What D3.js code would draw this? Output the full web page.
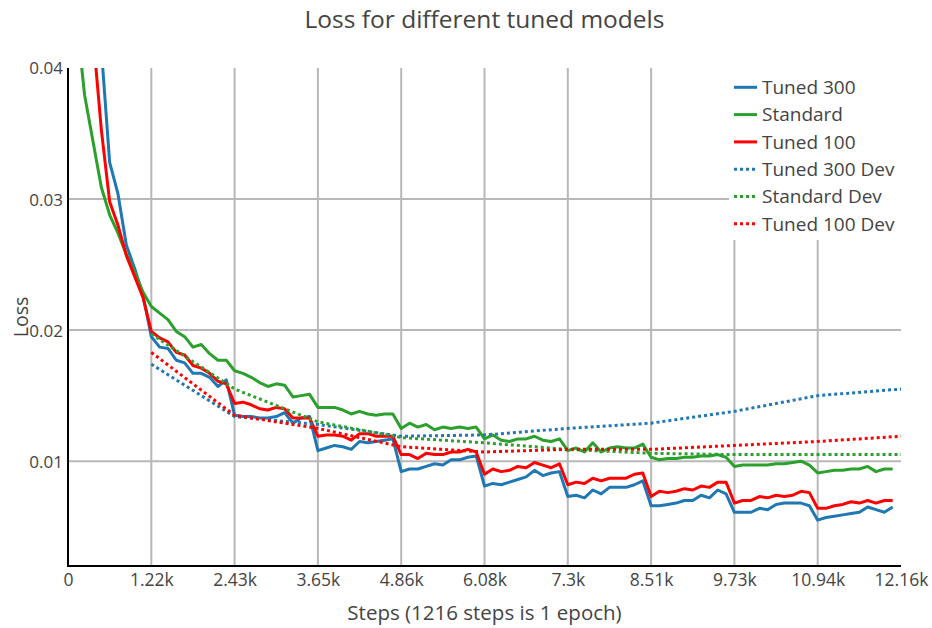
<!DOCTYPE html>
<html>
<head>
<meta charset="utf-8">
<script src="https://cdn.jsdelivr.net/npm/d3@7"></script>
<style>
  html, body { margin: 0; padding: 0; background: #fff; }
  svg { display: block; font-family: "Open Sans", sans-serif; }
</style>
</head>
<body>
<svg id="chart" width="932" height="628"></svg>
<script>
// Training loss logged every 121.6 steps (10 samples per epoch of 1216 steps)
const STEP = 121.6;
const tuned300 = [0.0900,0.0700,0.0550,0.0470,0.0415,0.0328,0.0304,0.0265,0.0247,0.0227,
  0.0195,0.0187,0.0186,0.0177,0.0175,0.0167,0.0167,0.0164,0.0157,0.0162,
  0.0135,0.0134,0.0134,0.0133,0.0133,0.0134,0.0137,0.0129,0.0133,0.0134,
  0.0108,0.0110,0.0112,0.0111,0.0109,0.0115,0.0114,0.0115,0.0116,0.0117,
  0.0092,0.0094,0.0094,0.0096,0.0098,0.0097,0.0101,0.0101,0.0103,0.0104,
  0.0081,0.0083,0.0082,0.0084,0.0086,0.0088,0.0093,0.0089,0.0091,0.0092,
  0.0073,0.0074,0.0072,0.0078,0.0075,0.0080,0.0080,0.0080,0.0082,0.0085,
  0.0066,0.0066,0.0067,0.0068,0.0070,0.0070,0.0074,0.0072,0.0078,0.0075,
  0.0061,0.0061,0.0061,0.0064,0.0063,0.0067,0.0068,0.0068,0.0068,0.0066,
  0.0055,0.0057,0.0058,0.0059,0.0060,0.0061,0.0065,0.0063,0.0061,0.0065];
const standard = [0.0700,0.0439,0.0379,0.0344,0.0309,0.0288,0.0274,0.0258,0.0244,0.0229,
  0.0218,0.0213,0.0208,0.0199,0.0195,0.0187,0.0189,0.0182,0.0177,0.0177,
  0.0169,0.0167,0.0164,0.0160,0.0157,0.0159,0.0158,0.0149,0.0150,0.0151,
  0.0141,0.0141,0.0141,0.0139,0.0136,0.0138,0.0136,0.0135,0.0136,0.0136,
  0.0125,0.0129,0.0126,0.0128,0.0124,0.0126,0.0125,0.0126,0.0125,0.0126,
  0.0117,0.0120,0.0116,0.0115,0.0117,0.0117,0.0119,0.0116,0.0115,0.0117,
  0.0108,0.0110,0.0107,0.0114,0.0107,0.0110,0.0111,0.0110,0.0110,0.0113,
  0.0103,0.0101,0.0102,0.0102,0.0103,0.0103,0.0104,0.0104,0.0105,0.0103,
  0.0096,0.0097,0.0097,0.0097,0.0097,0.0098,0.0098,0.0099,0.0100,0.0097,
  0.0091,0.0092,0.0093,0.0093,0.0094,0.0094,0.0096,0.0092,0.0094,0.0094];
const tuned100 = [0.0850,0.0600,0.0480,0.0426,0.0353,0.0298,0.0280,0.0257,0.0241,0.0225,
  0.0199,0.0194,0.0191,0.0183,0.0181,0.0173,0.0171,0.0167,0.0161,0.0159,
  0.0144,0.0145,0.0143,0.0140,0.0139,0.0141,0.0140,0.0133,0.0133,0.0133,
  0.0119,0.0120,0.0120,0.0119,0.0116,0.0121,0.0121,0.0119,0.0119,0.0119,
  0.0105,0.0105,0.0102,0.0106,0.0105,0.0105,0.0107,0.0107,0.0109,0.0107,
  0.0090,0.0094,0.0092,0.0093,0.0096,0.0095,0.0099,0.0097,0.0095,0.0098,
  0.0082,0.0084,0.0083,0.0087,0.0085,0.0087,0.0087,0.0087,0.0090,0.0091,
  0.0073,0.0077,0.0076,0.0077,0.0079,0.0078,0.0081,0.0080,0.0084,0.0084,
  0.0068,0.0070,0.0070,0.0073,0.0072,0.0074,0.0073,0.0074,0.0077,0.0076,
  0.0064,0.0064,0.0066,0.0067,0.0069,0.0068,0.0070,0.0068,0.0070,0.0070];

// Dev loss evaluated at the end of each epoch
const EPOCH = 1216;
const tuned300Dev = [0.0174,0.0134,0.0128,0.0119,0.0120,0.0125,0.0129,0.0138,0.0150,0.0155];
const standardDev = [0.0197,0.0155,0.0130,0.0118,0.0114,0.0109,0.0106,0.0105,0.0105,0.0105];
const tuned100Dev = [0.0183,0.0135,0.0125,0.0111,0.0107,0.0109,0.0109,0.0112,0.0115,0.0119];

const xTickValues = [0,1216,2432,3648,4864,6080,7296,8512,9728,10944,12160];
const xTickLabels = ["0","1.22k","2.43k","3.65k","4.86k","6.08k","7.3k","8.51k","9.73k","10.94k","12.16k"];
const yTickValues = [0.01,0.02,0.03,0.04];
const yTickLabels = ["0.01","0.02","0.03","0.04"];

const seriesNames = ["Tuned 300","Standard","Tuned 100","Tuned 300 Dev","Standard Dev","Tuned 100 Dev"];
const seriesColors = ["#1f77b4","#2ca02c","#ff0000","#1f77b4","#2ca02c","#ff0000"];

const trainSeries = [tuned300, standard, tuned100].map(vals => vals.map((v,i) => [i*STEP, v]));
const devSeries = [tuned300Dev, standardDev, tuned100Dev].map(vals => vals.map((v,i) => [(i+1)*EPOCH, v]));

const svg = d3.select("#chart");
const plotL = 68, plotR = 901, plotT = 68, plotB = 566;
const x = d3.scaleLinear().domain([0, 12160]).range([plotL, plotR]);
const y = d3.scaleLinear().domain([0.002, 0.04]).range([plotB, plotT]);
const textColor = "#444";
const gridColor = "#b8b8b8";

svg.append("defs").append("clipPath").attr("id","plotClip")
  .append("rect").attr("x", plotL).attr("y", plotT).attr("width", plotR-plotL).attr("height", plotB-plotT);

// gridlines
const grid = svg.append("g");
grid.selectAll("line.vx").data(xTickValues.filter(v => v > 0 && v < 12160)).join("line")
  .attr("x1", d => x(d)).attr("x2", d => x(d)).attr("y1", plotT).attr("y2", plotB)
  .attr("stroke", gridColor).attr("stroke-width", 2);
grid.selectAll("line.hy").data(yTickValues.filter(v => v < 0.04)).join("line")
  .attr("x1", plotL).attr("x2", plotR).attr("y1", d => y(d)).attr("y2", d => y(d))
  .attr("stroke", gridColor).attr("stroke-width", 2);

// data lines
const line = d3.line().x(d => x(d[0])).y(d => y(d[1]));
const plot = svg.append("g").attr("clip-path", "url(#plotClip)");
trainSeries.forEach((s, k) => {
  plot.append("path").datum(s).attr("d", line)
    .attr("fill","none").attr("stroke", seriesColors[k]).attr("stroke-width", 3)
    .attr("stroke-linejoin","round");
});
devSeries.forEach((s, k) => {
  plot.append("path").datum(s).attr("d", line)
    .attr("fill","none").attr("stroke", seriesColors[k+3]).attr("stroke-width", 3)
    .attr("stroke-dasharray","3,3");
});

// axis lines
svg.append("line").attr("x1", plotL).attr("x2", plotL).attr("y1", plotT).attr("y2", plotB+1)
  .attr("stroke","#000").attr("stroke-width", 2);
svg.append("line").attr("x1", plotL-1).attr("x2", plotR).attr("y1", plotB).attr("y2", plotB)
  .attr("stroke","#000").attr("stroke-width", 2);

// tick labels via d3 axis generators (domain and tick marks hidden)
const xAxis = d3.axisBottom(x).tickValues(xTickValues)
  .tickFormat((d,i) => xTickLabels[i]).tickSize(0).tickPadding(0);
const gx = svg.append("g").attr("transform", `translate(0,${plotB})`).call(xAxis);
gx.select(".domain").remove();
gx.selectAll("text").attr("y", 20).attr("dy", 0).attr("fill", textColor)
  .style("font-size","17.5px").style("font-family","'Open Sans', sans-serif");

const yAxis = d3.axisLeft(y).tickValues(yTickValues)
  .tickFormat((d,i) => yTickLabels[i]).tickSize(0).tickPadding(5);
const gy = svg.append("g").attr("transform", `translate(${plotL},0)`).call(yAxis);
gy.select(".domain").remove();
gy.selectAll("text").attr("dy","0.35em").attr("fill", textColor)
  .style("font-size","17px").style("font-family","'Open Sans', sans-serif");

// titles
svg.append("text").attr("x", (plotL+plotR)/2).attr("y", 28).attr("text-anchor","middle")
  .attr("fill", textColor).style("font-size","24.5px").text("Loss for different tuned models");
svg.append("text").attr("x", (plotL+plotR)/2).attr("y", 620).attr("text-anchor","middle")
  .attr("fill", textColor).style("font-size","20.5px").text("Steps (1216 steps is 1 epoch)");
svg.append("text").attr("transform", `translate(28,${(plotT+plotB)/2}) rotate(-90)`)
  .attr("text-anchor","middle").attr("fill", textColor).style("font-size","19.5px").text("Loss");

// legend
const legend = svg.append("g");
legend.append("rect").attr("x", 729).attr("y", 68).attr("width", 180).attr("height", 172).attr("fill", "#fff");
seriesNames.forEach((name, k) => {
  const cy = 87.3 + k*27.3;
  legend.append("line").attr("x1", 734).attr("x2", 757).attr("y1", cy).attr("y2", cy)
    .attr("stroke", seriesColors[k]).attr("stroke-width", 3)
    .attr("stroke-dasharray", k >= 3 ? "3,3" : null);
  legend.append("text").attr("x", 762).attr("y", cy + 6.7)
    .attr("fill", textColor).style("font-size","19px").text(name);
});
</script>
</body>
</html>
